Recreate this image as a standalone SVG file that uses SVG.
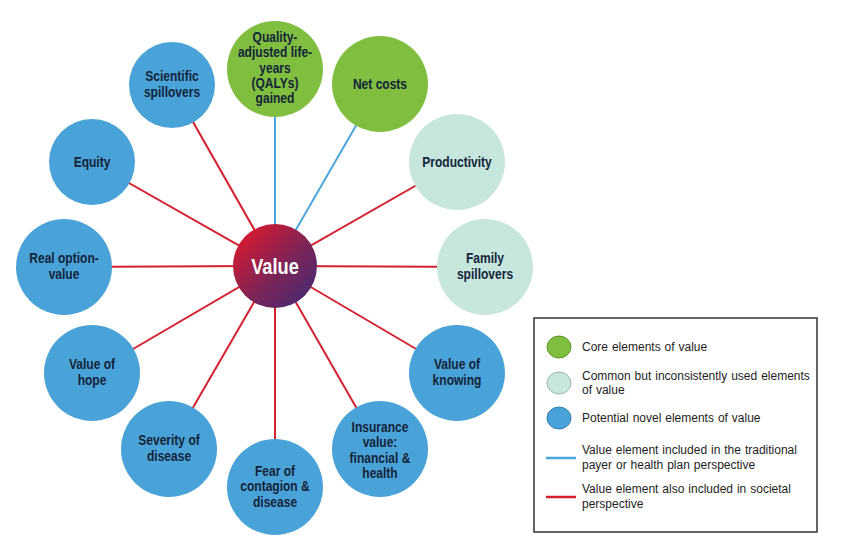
<svg xmlns="http://www.w3.org/2000/svg" width="850" height="550" viewBox="0 0 850 550">
<defs>
<linearGradient id="gv" x1="0" y1="0" x2="1" y2="1">
<stop offset="0.1" stop-color="#d91a30"/>
<stop offset="0.55" stop-color="#7d2457"/>
<stop offset="0.9" stop-color="#4a2a72"/>
</linearGradient>
<style>
.blue{fill:#4aa3d8}
.green{fill:#7fbe3f}
.teal{fill:#c7e6dd}
.lbl{font-family:"Liberation Sans",Arial,sans-serif;font-weight:bold;font-size:14.5px;fill:#14243a;text-anchor:middle}
.red{stroke:#d4212f;stroke-width:2;fill:none}
.bl{stroke:#4ba6dd;stroke-width:2;fill:none}
.leg{font-family:"Liberation Sans",Arial,sans-serif;font-size:12px;fill:#1e1e1e;word-spacing:0.6px}
</style>
</defs>
<rect width="850" height="550" fill="#ffffff"/>
<g id="connectors">
<line class="bl" x1="275" y1="266" x2="275" y2="69"/>
<line class="bl" x1="275" y1="266" x2="380" y2="84"/>
<line class="red" x1="275" y1="266" x2="172" y2="85"/>
<line class="red" x1="275" y1="266" x2="92" y2="162"/>
<line class="red" x1="275" y1="266" x2="64" y2="267"/>
<line class="red" x1="275" y1="266" x2="92" y2="373"/>
<line class="red" x1="275" y1="266" x2="169" y2="449"/>
<line class="red" x1="275" y1="266" x2="275" y2="487"/>
<line class="red" x1="275" y1="266" x2="380" y2="449"/>
<line class="red" x1="275" y1="266" x2="457" y2="373"/>
<line class="red" x1="275" y1="266" x2="485" y2="267"/>
<line class="red" x1="275" y1="266" x2="457" y2="162"/>
</g>
<g id="qalys"><circle class="green" cx="275" cy="69" r="48"/>
<g transform="translate(275,0) scale(0.83,1)"><text class="lbl"><tspan x="0" y="42">Quality-</tspan><tspan x="0" y="57.5">adjusted life-</tspan><tspan x="0" y="73">years</tspan><tspan x="0" y="88">(QALYs)</tspan><tspan x="0" y="103">gained</tspan></text></g></g>
<g id="netcosts"><circle class="green" cx="380" cy="84" r="48"/>
<g transform="translate(380,0) scale(0.83,1)"><text class="lbl" x="0" y="89">Net costs</text></g></g>
<g id="productivity"><circle class="teal" cx="457" cy="162" r="48"/>
<g transform="translate(457,0) scale(0.83,1)"><text class="lbl" x="0" y="167">Productivity</text></g></g>
<g id="family"><circle class="teal" cx="485" cy="267" r="48"/>
<g transform="translate(485,0) scale(0.83,1)"><text class="lbl"><tspan x="0" y="263">Family</tspan><tspan x="0" y="279">spillovers</tspan></text></g></g>
<g id="knowing"><circle class="blue" cx="457" cy="373" r="48"/>
<g transform="translate(457,0) scale(0.83,1)"><text class="lbl"><tspan x="0" y="369">Value of</tspan><tspan x="0" y="385">knowing</tspan></text></g></g>
<g id="insurance"><circle class="blue" cx="380" cy="449" r="48"/>
<g transform="translate(380,0) scale(0.83,1)"><text class="lbl"><tspan x="0" y="432">Insurance</tspan><tspan x="0" y="447.5">value:</tspan><tspan x="0" y="463">financial &amp;</tspan><tspan x="0" y="478">health</tspan></text></g></g>
<g id="fear"><circle class="blue" cx="275" cy="487" r="48"/>
<g transform="translate(275,0) scale(0.83,1)"><text class="lbl"><tspan x="0" y="476">Fear of</tspan><tspan x="0" y="491.5">contagion &amp;</tspan><tspan x="0" y="507">disease</tspan></text></g></g>
<g id="severity"><circle class="blue" cx="169" cy="449" r="48"/>
<g transform="translate(169,0) scale(0.83,1)"><text class="lbl"><tspan x="0" y="445">Severity of</tspan><tspan x="0" y="461">disease</tspan></text></g></g>
<g id="hope"><circle class="blue" cx="92" cy="373" r="48"/>
<g transform="translate(92,0) scale(0.83,1)"><text class="lbl"><tspan x="0" y="369">Value of</tspan><tspan x="0" y="385">hope</tspan></text></g></g>
<g id="realoption"><circle class="blue" cx="64" cy="267" r="48"/>
<g transform="translate(64,0) scale(0.83,1)"><text class="lbl"><tspan x="0" y="263">Real option-</tspan><tspan x="0" y="279">value</tspan></text></g></g>
<g id="equity"><circle class="blue" cx="92" cy="162" r="43"/>
<g transform="translate(92,0) scale(0.83,1)"><text class="lbl" x="0" y="167">Equity</text></g></g>
<g id="scientific"><circle class="blue" cx="172" cy="85" r="43"/>
<g transform="translate(172,0) scale(0.83,1)"><text class="lbl"><tspan x="0" y="81">Scientific</tspan><tspan x="0" y="97">spillovers</tspan></text></g></g>
<g id="value"><circle cx="275" cy="266" r="42" fill="url(#gv)"/>
<g transform="translate(275,0) scale(0.83,1)"><text x="0" y="274" text-anchor="middle" font-family="'Liberation Sans',Arial,sans-serif" font-weight="bold" font-size="22" fill="#ffffff">Value</text></g></g>
<g id="legend">
<rect x="534" y="318" width="283" height="214" fill="#ffffff" stroke="#333333" stroke-width="1.5"/>
<ellipse cx="559" cy="347" rx="12" ry="11" fill="#7fbe3f" stroke="#5a9a2a" stroke-width="1"/>
<text class="leg" x="582" y="351">Core elements of value</text>
<ellipse cx="559" cy="383" rx="12" ry="11" fill="#c7e6dd" stroke="#9ab5ad" stroke-width="1"/>
<text class="leg"><tspan x="582" y="380">Common but inconsistently used elements</tspan><tspan x="582" y="394">of value</tspan></text>
<ellipse cx="559" cy="418" rx="12" ry="11" fill="#4aa3d8" stroke="#2f7fae" stroke-width="1"/>
<text class="leg" x="582" y="422">Potential novel elements of value</text>
<line x1="546" y1="458" x2="576" y2="458" stroke="#4ba6dd" stroke-width="2.5"/>
<text class="leg"><tspan x="582" y="454">Value element included in the traditional</tspan><tspan x="582" y="469">payer or health plan perspective</tspan></text>
<line x1="546" y1="497" x2="576" y2="497" stroke="#d4212f" stroke-width="2.5"/>
<text class="leg"><tspan x="582" y="493">Value element also included in societal</tspan><tspan x="582" y="508">perspective</tspan></text>
</g>
</svg>
